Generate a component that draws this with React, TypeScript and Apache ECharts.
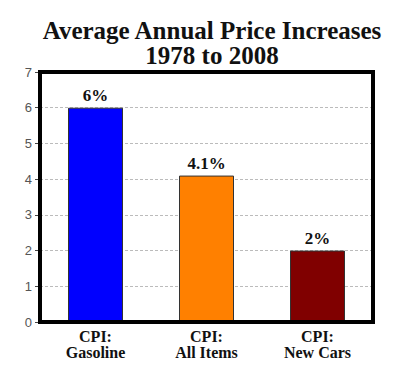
import React, { useEffect, useRef } from "react";
import * as echarts from "echarts";

const categories = ["CPI:\nGasoline", "CPI:\nAll Items", "CPI:\nNew Cars"];
const values = [6, 4.1, 2];
const valueLabels = ["6%", "4.1%", "2%"];
const barColors = ["#0000FF", "#FF8000", "#800000"];
const titleLines = ["Average Annual Price Increases", "1978 to 2008"];

export default function App() {
  const ref = useRef<HTMLDivElement>(null);
  useEffect(() => {
    if (!ref.current) return;
    const chart = echarts.init(ref.current, null, { renderer: "svg" });
    chart.setOption({
      animation: false,
      backgroundColor: "#ffffff",
      title: {
        text: titleLines.join("\n"),
        left: 207,
        textAlign: "center",
        top: 13,
        textStyle: {
          fontFamily: "Liberation Serif",
          fontWeight: "bold",
          fontSize: 25,
          lineHeight: 25,
          color: "#111",
        },
      },
      grid: {
        left: 40,
        right: 27,
        top: 72,
        bottom: 43,
        show: true,
        borderColor: "#000",
        borderWidth: 4,
        backgroundColor: "transparent",
        z: 3,
      },
      xAxis: {
        type: "category",
        data: categories,
        axisLine: { show: false },
        axisTick: { show: false },
        axisLabel: {
          interval: 0,
          margin: 6,
          fontFamily: "Liberation Serif",
          fontWeight: "bold",
          fontSize: 16,
          lineHeight: 16,
          color: "#111",
        },
      },
      yAxis: {
        type: "value",
        min: 0,
        max: 7,
        interval: 1,
        axisLine: { show: false },
        axisTick: { show: true, length: 5, lineStyle: { color: "#444" } },
        axisLabel: {
          margin: 8,
          fontFamily: "Liberation Sans",
          fontSize: 13,
          color: "#555",
        },
        splitLine: {
          show: true,
          showMinLine: false,
          showMaxLine: false,
          lineStyle: { color: "#bbb", type: [3, 2], width: 1 },
        },
      },
      series: [
        {
          type: "bar",
          barWidth: 55,
          data: values.map((v, i) => ({
            value: v,
            itemStyle: { color: barColors[i], borderColor: "#333", borderWidth: 1 },
          })),
          label: {
            show: true,
            position: "top",
            distance: 4,
            formatter: (p: any) => valueLabels[p.dataIndex],
            fontFamily: "Liberation Serif",
            fontWeight: "bold",
            fontSize: 17,
            color: "#111",
          },
        },
      ],
    });
    return () => chart.dispose();
  }, []);
  return (
    <div
      ref={ref}
      style={{ position: "fixed", left: 0, top: 0, width: 400, height: 365 }}
    />
  );
}
